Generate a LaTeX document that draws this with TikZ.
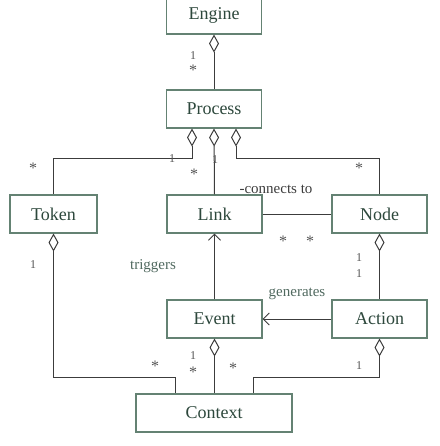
\documentclass[tikz,border=0pt]{standalone}
\usepackage{fontspec}
\setmainfont{Liberation Serif}
\usepackage{tikz}
\usetikzlibrary{shapes,arrows,arrows.meta,positioning,calc}
\definecolor{boxcolor}{RGB}{100,130,115}
\definecolor{namecolor}{RGB}{45,72,60}
\definecolor{linecolor}{RGB}{60,60,60}
\definecolor{rolecolor}{RGB}{80,105,95}
\definecolor{multcolor}{RGB}{85,85,85}

\begin{document}
\begin{tikzpicture}[x=1pt,y=-1pt,
    cls/.style={draw=boxcolor,line width=1.1pt,fill=white,minimum width=95pt,minimum height=38pt,
        inner sep=0pt,text=namecolor,font=\fontsize{18}{21}\selectfont},
    assoc/.style={draw=linecolor,line width=1pt},
    agg/.style={assoc,{Diamond[open,length=18pt,width=10pt,line width=1pt]}-},
    nav/.style={assoc,-{Straight Barb[length=6pt,width=12pt,line width=1pt]}},
    role/.style={text=rolecolor,font=\fontsize{15}{17}\selectfont,inner sep=0pt},
    mult/.style={text=multcolor,font=\fontsize{12}{14}\selectfont,inner sep=0pt},
    star/.style={mult,font=\fontsize{16}{18}\selectfont,yshift=-3pt}]
    \useasboundingbox (0,0) rectangle (439,446);

    % Classes
    \node[cls,minimum height=46pt,text height=21pt,text depth=4pt] (engine) at (214,11) {Engine};
    \node[cls] (process) at (214,109) {Process};
    \node[cls,minimum width=87pt] (token) at (53.5,214) {Token};
    \node[cls] (link) at (214.5,214) {Link};
    \node[cls] (node) at (379.5,214) {Node};
    \node[cls] (event) at (214.5,319) {Event};
    \node[cls] (action) at (379.5,319) {Action};
    \node[cls,minimum width=156pt] (context) at (214,413) {Context};

    % Bends of the long connectors
    \coordinate (tokbend) at (175,377);
    \coordinate (actbend) at (253,377);

    % Aggregations
    \draw[agg] (engine.south) -- (process.north);
    \draw[agg] ([xshift=-22pt]process.south) -- ++(0,30) -| (token.north);
    \draw[agg] (process.south) -- (link.north);
    \draw[agg] ([xshift=22pt]process.south) -- ++(0,30) -| (node.north);
    \draw[agg] (token.south) |- (tokbend) -- (tokbend |- context.north);
    \draw[agg] (node.south) -- (action.north);
    \draw[agg] (event.south) -- (event.south |- context.north);
    \draw[agg] (action.south) |- (actbend) -- (actbend |- context.north);

    % Plain and directed associations
    \draw[assoc] (link.east) -- (node.west);
    \draw[nav] (event.north) -- (link.south);
    \draw[nav] (action.west) -- (event.east);

    % Role names
    \node[role,text=linecolor] (connects) at (276,189) {-connects to};
    \node[role] (triggers) at (153,266) {triggers};
    \node[role] (generates) at (297,294) {generates};

    % Multiplicities
    \foreach \x/\y [count=\i] in {193/56, 172/159, 215/160, 33/265, 359/258, 359/274, 193/356, 359/366}{
        \node[mult] (one\i) at (\x,\y) {1};
    }
    \foreach \x/\y [count=\i] in {193/67, 33/165, 194/171, 359/165, 283/238, 310/238, 155/363, 193/369, 233/365}{
        \node[star] (many\i) at (\x,\y) {*};
    }
\end{tikzpicture}
\end{document}
